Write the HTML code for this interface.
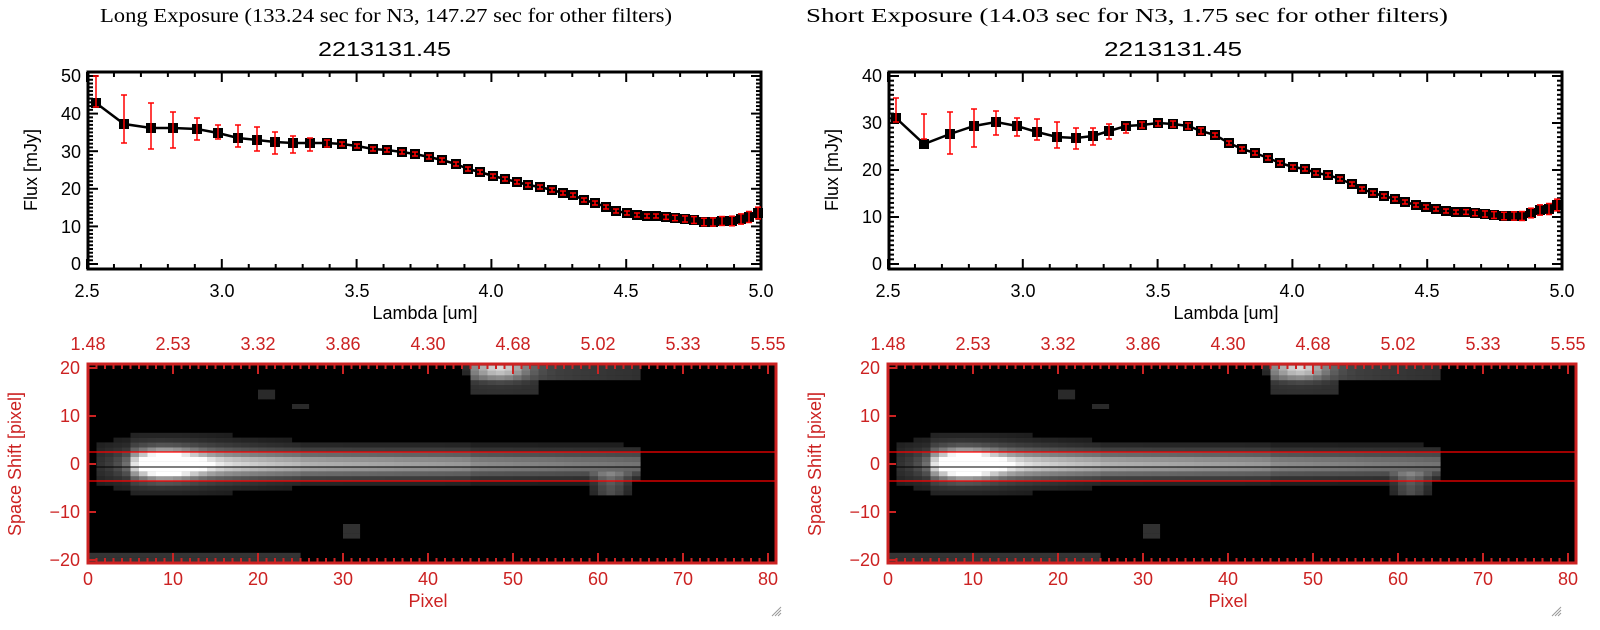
<!DOCTYPE html>
<html><head><meta charset="utf-8">
<style>
html,body{margin:0;padding:0;background:#fff;}
svg{display:block;}
.t{font-family:"Liberation Sans",sans-serif;font-size:18px;}
.s{font-family:"Liberation Serif",serif;font-size:20px;}
.r{fill:#cc2222;}
</style></head><body>
<svg id="c" width="1600" height="630" xmlns="http://www.w3.org/2000/svg">
<rect width="1600" height="630" fill="#fff"/>
<g id="dyn"></g>
<text class="s" x="100" y="22" textLength="572" lengthAdjust="spacingAndGlyphs">Long Exposure (133.24 sec for N3, 147.27 sec for other filters)</text>
<text class="s" x="806" y="22" textLength="642" lengthAdjust="spacingAndGlyphs">Short Exposure (14.03 sec for N3, 1.75 sec for other filters)</text>
<text class="t" x="318" y="56" style="font-size:20px" textLength="133" lengthAdjust="spacingAndGlyphs">2213131.45</text>
<text class="t" x="1104" y="56" style="font-size:20px" textLength="138" lengthAdjust="spacingAndGlyphs">2213131.45</text>
<g class="t" text-anchor="end">
<text x="81" y="82">50</text><text x="81" y="120">40</text><text x="81" y="158">30</text><text x="81" y="195">20</text><text x="81" y="233">10</text><text x="81" y="270">0</text>
<text x="882" y="82">40</text><text x="882" y="129">30</text><text x="882" y="176">20</text><text x="882" y="223">10</text><text x="882" y="270">0</text>
</g>
<g class="t" text-anchor="middle">
<text x="87" y="297">2.5</text><text x="222" y="297">3.0</text><text x="357" y="297">3.5</text><text x="491" y="297">4.0</text><text x="626" y="297">4.5</text><text x="761" y="297">5.0</text>
<text x="888" y="297">2.5</text><text x="1023" y="297">3.0</text><text x="1158" y="297">3.5</text><text x="1292" y="297">4.0</text><text x="1427" y="297">4.5</text><text x="1562" y="297">5.0</text>
<text x="425" y="319">Lambda [um]</text><text x="1226" y="319">Lambda [um]</text>
</g>
<text class="t" transform="translate(37,170) rotate(-90)" text-anchor="middle">Flux [mJy]</text>
<text class="t" transform="translate(838,170) rotate(-90)" text-anchor="middle">Flux [mJy]</text>
<g class="t r" text-anchor="middle">
<text x="88" y="350">1.48</text><text x="173" y="350">2.53</text><text x="258" y="350">3.32</text><text x="343" y="350">3.86</text><text x="428" y="350">4.30</text><text x="513" y="350">4.68</text><text x="598" y="350">5.02</text><text x="683" y="350">5.33</text><text x="768" y="350">5.55</text>
<text x="88" y="585">0</text><text x="173" y="585">10</text><text x="258" y="585">20</text><text x="343" y="585">30</text><text x="428" y="585">40</text><text x="513" y="585">50</text><text x="598" y="585">60</text><text x="683" y="585">70</text><text x="768" y="585">80</text>
<text x="428" y="607">Pixel</text>
<text x="888" y="350">1.48</text><text x="973" y="350">2.53</text><text x="1058" y="350">3.32</text><text x="1143" y="350">3.86</text><text x="1228" y="350">4.30</text><text x="1313" y="350">4.68</text><text x="1398" y="350">5.02</text><text x="1483" y="350">5.33</text><text x="1568" y="350">5.55</text>
<text x="888" y="585">0</text><text x="973" y="585">10</text><text x="1058" y="585">20</text><text x="1143" y="585">30</text><text x="1228" y="585">40</text><text x="1313" y="585">50</text><text x="1398" y="585">60</text><text x="1483" y="585">70</text><text x="1568" y="585">80</text>
<text x="1228" y="607">Pixel</text>
</g>
<g class="t r" text-anchor="end">
<text x="80" y="374">20</text><text x="80" y="422">10</text><text x="80" y="470">0</text><text x="80" y="518">−10</text><text x="80" y="566">−20</text>
<text x="880" y="374">20</text><text x="880" y="422">10</text><text x="880" y="470">0</text><text x="880" y="518">−10</text><text x="880" y="566">−20</text>
</g>
<text class="t r" transform="translate(21,464) rotate(-90)" text-anchor="middle">Space Shift [pixel]</text>
<text class="t r" transform="translate(821,464) rotate(-90)" text-anchor="middle">Space Shift [pixel]</text>
</svg>
<script>
(function(){
var g=document.getElementById("dyn"),out=[];
function R(x,y,w,h,f){out.push('<rect x="'+x+'" y="'+y+'" width="'+w+'" height="'+h+'" fill="'+f+'"/>');}
function L(x1,y1,x2,y2,s,w){out.push('<line x1="'+x1+'" y1="'+y1+'" x2="'+x2+'" y2="'+y2+'" stroke="'+s+'" stroke-width="'+w+'"/>');}
function topPanel(ox,pxu,maxv,pts){
  var x0=88+ox,x1=761+ox,y0=72,y1=269;
  for(var i=0;i<=25;i++){var x=87+ox+i*26.96;var len=(i%5==0)?10:5;
    L(x,y1,x,y1-len,"#000",2);L(x,y0,x,y0+len,"#000",2);}
  for(var v=0;v<=maxv;v++){var y=264-v*pxu;var len=(v%10==0)?10:5;
    L(x0,y,x0+len,y,"#000",2);L(x1,y,x1-len,y,"#000",2);}
  out.push('<rect x="'+x0+'" y="'+y0+'" width="'+(x1-x0)+'" height="'+(y1-y0)+'" fill="none" stroke="#000" stroke-width="3"/>');
  var d="";pts.forEach(function(p,i){d+=(i?"L":"M")+(p[0]+ox)+","+p[1];});
  out.push('<path d="'+d+'" fill="none" stroke="#000" stroke-width="2.5"/>');
  pts.forEach(function(p){R(p[0]+ox-5,p[1]-5,10,10,"#000");});
  pts.forEach(function(p,i){var a=p[2],b=p[3];if(a===undefined){var n=pts.length;var e=(i>n-12)?2+(i-(n-12))*0.35:2;a=p[1]-e;b=p[1]+e;}
    var x=p[0]+ox;L(x,a,x,b,"#f00",1.5);L(x-3,a,x+3,a,"#f00",1.5);L(x-3,b,x+3,b,"#f00",1.5);});
}
var P1=[[96,103,76,107],[124,124,95,143],[151,128,103,149],[173,128,112,148],[197,129,118,140],[218,133,125,139],[238,138,125,147],[257,140,127,151],[275,142,132,154],[293,143,136,153],[310,143,138,151],[327,143,140,147],[342,144],[357,146],[373,149],[387,150],
[402,152],[415,154],[429,157],[442,160],[456,164],[468,169],[480,172],[493,176],[505,179],[517,182],[528,185],[540,187],[552,190],[563,193],[573,195],[584,200],[595,203],[606,207],[616,211],[627,213],[637,215],[647,216],[656,216],[666,217],[675,218],[685,219],[694,220],[704,222],[713,222],[722,221],[732,221],[741,219],[749,217],[758,213]];
var P2=[[95,118,98,122],[123,144,114,139],[149,134,112,154],[173,126,109,147],[195,122,111,135],[216,126,118,136],[236,132,119,140],[256,137,122,148],[275,138,128,149],[292,136,128,145],[308,131,124,139],[325,126,124,133],[341,125,122,128],[357,123,121,126],[372,124,121,127],[387,126,123,129],[400,131,128,134],
[414,135],[428,143],[441,149],[454,153],[467,158],[479,163],[492,167],[504,169],[515,173],[527,175],[539,179],[551,184],[561,189],[572,193],[583,196],[594,199],[604,202],[615,205],[625,207],[635,209],[645,211],[655,212],[665,212],[674,213],[684,214],[693,215],[703,216],[713,216],[721,216],[730,213],[739,210],[748,209],[756,205]];
topPanel(0,3.76,50,P1);
topPanel(801,4.7,40,P2);
function I(p,s){
  var v=0;
  v+=1.0*Math.exp(-Math.pow(p-8.5,2)/(2*2.6*2.6)-s*s/(2*1.7*1.7));
  if(p>=5&&p<=64){var A=0.62-0.0055*(p-10);if(p<8)A*=(p-4)/4;v+=A*Math.exp(-s*s/(2*1.7*1.7));
    v+=0.14*Math.exp(-s*s/(2*3.4*3.4))*(p<45?1:0.7);}
  if(p>=1&&p<=24)v+=0.2*Math.exp(-s*s/(2*4*4))*Math.exp(-Math.pow(p-8,2)/(2*8*8));
  v+=0.6*Math.exp(-Math.pow(p-48,2)/(2*2.3*2.3)-Math.pow(s-20,2)/(2*1.6*1.6));
  if(p>=45&&p<=64&&s>=18)v+=0.26-0.006*(p-45);
  if(p>=45&&p<=52&&s>=15&&s<18)v+=0.14;
  if(p>=59&&p<=63&&s<=-2&&s>=-6)v+=0.25*Math.exp(-Math.pow(p-61,2)/4);
  if(p<=24&&s<=-19)v+=0.16;
  if(p>=30&&p<=31&&s<=-13&&s>=-15)v+=0.15;
  if(p>=20&&p<=21&&s>=14&&s<=15)v+=0.12;
  if(p>=24&&p<=25&&s==12)v+=0.12;
  if(p>64)v=0;
  return v;
}
function bottom(ox){
  var x0=88+ox,x1=776+ox,y0=364,y1=563;
  R(x0,y0,x1-x0,y1-y0,"#000");
  for(var p=0;p<65;p++)for(var s=-20;s<=20;s++){
    var v=I(p,s);if(v<0.07)continue;v=Math.min(1,v);
    var c=Math.round(255*Math.min(1,0.05+v*0.95));
    var yt=Math.max(y0,464-(s+0.5)*4.8),yb=Math.min(y1,464-(s-0.5)*4.8);
    R(x0+p*8.5,yt,8.6,yb-yt+0.2,"rgb("+c+","+c+","+c+")");
  }
  L(x0,452,x1,452,"#f00",1.2);L(x0,467,x1,467,"#000",1);L(x0,481,x1,481,"#f00",1.2);
  for(var p=0;p<=80;p++){var x=88+ox+p*8.5;var len=(p%10==0)?10:5;
    L(x,y1,x,y1-len,"#cc2222",2);L(x,y0,x,y0+len,"#cc2222",2);}
  for(var s=-20;s<=20;s+=10){var y=464-s*4.8;L(x0,y,x0+8,y,"#cc2222",2);}
  out.push('<rect x="'+x0+'" y="'+y0+'" width="'+(x1-x0)+'" height="'+(y1-y0)+'" fill="none" stroke="#cc2222" stroke-width="3"/>');
}
bottom(0);bottom(800);
[772,1552].forEach(function(x){L(x,616,x+9,607,"#999",1);L(x+3,616,x+9,610,"#999",1);L(x+6,616,x+9,613,"#999",1);});
g.innerHTML=out.join("");
})();
</script>
</body></html>
